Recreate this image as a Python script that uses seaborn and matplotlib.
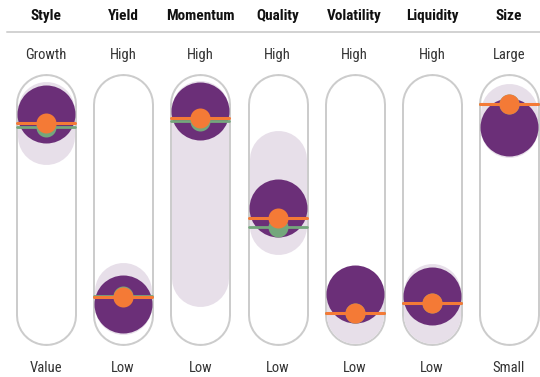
#!/usr/bin/env python3

import pandas as pd
import seaborn as sns
import matplotlib.pyplot as plt

# factor profile, values on a 0 (bottom) .. 100 (top) scale
factors = ['Style', 'Yield', 'Momentum', 'Quality', 'Volatility', 'Liquidity', 'Size']
top_labels = ['Growth', 'High', 'High', 'High', 'High', 'High', 'Large']
bottom_labels = ['Value', 'Low', 'Low', 'Low', 'Low', 'Low', 'Small']
fund = [84.9, 15.1, 86.2, 50.4, 18.9, 18.0, 80.3]          # dark circle
range_hi = [96.7, 30.5, 97.4, 79.0, 29.4, 29.8, 96.0]     # light band top
range_lo = [66.2, 3.7, 14.0, 33.1, 0.5, 0.7, 68.8]        # light band bottom
benchmark = [81.6, 17.6, 83.5, 46.7, 11.8, 15.4, 88.6]    # orange
category = [80.1, 18.0, 82.4, 43.4, 11.8, 15.4, 88.6]     # green

DARK = '#6b2f78'
LIGHT = '#e7dfe9'
ORANGE = '#f47a36'
GREEN = '#74a77c'
GREY = '#cccccc'

sns.set_style('white')
plt.rcParams['font.family'] = ['Roboto Condensed', 'DejaVu Sans']

fig = plt.figure(figsize=(5.4, 3.77), dpi=100)
ax = fig.add_axes([0, 0, 1, 1])

px = 72 / 100  # points per pixel
unit_px = 2.72  # pixels per y unit
cap = 28.5 / unit_px  # cap radius in y units
half_w = 0.376

df = pd.DataFrame({'x': range(len(factors)), 'fund': fund,
                   'benchmark': benchmark, 'category': category})

for i in range(len(factors)):
    # pill outline
    ax.plot([i, i], [30.5 / unit_px, 100 - 30.5 / unit_px], color=GREY,
            lw=61 * px, solid_capstyle='round', zorder=1)
    ax.plot([i, i], [30.5 / unit_px, 100 - 30.5 / unit_px], color='white',
            lw=57 * px, solid_capstyle='round', zorder=2)
    # range band
    ax.plot([i, i], [range_lo[i] + cap, range_hi[i] - cap], color=LIGHT,
            lw=57 * px, solid_capstyle='round', zorder=3)
    # category and benchmark lines
    ax.plot([i - half_w, i + half_w], [category[i]] * 2, color=GREEN,
            lw=2, zorder=5)
    ax.plot([i - half_w, i + half_w], [benchmark[i]] * 2, color=ORANGE,
            lw=2.2, zorder=7)
    ax.text(i, 121.0, factors[i], ha='center', va='center', fontsize=11,
            fontweight='bold', color='#111111')
    ax.text(i, 106.6, top_labels[i], ha='center', va='center', fontsize=10.5,
            color='#333333')
    ax.text(i, -8.4, bottom_labels[i], ha='center', va='center', fontsize=10.5,
            color='#333333')

sns.scatterplot(data=df, x='x', y='fund', s=(58 * px) ** 2, color=DARK,
                linewidth=0, ax=ax, zorder=4)
sns.scatterplot(data=df, x='x', y='category', s=(20 * px) ** 2, color=GREEN,
                linewidth=0, ax=ax, zorder=6)
sns.scatterplot(data=df, x='x', y='benchmark', s=(20 * px) ** 2, color=ORANGE,
                linewidth=0, ax=ax, zorder=8)

ax.axhline(115.1, xmin=7 / 540, xmax=1, color='#d3d3d3', lw=2 * px)
ax.set_xlim(-0.596, 6.401)
ax.set_ylim(-11.76, 126.84)
ax.axis('off')

fig.savefig('out.png', dpi=100)
